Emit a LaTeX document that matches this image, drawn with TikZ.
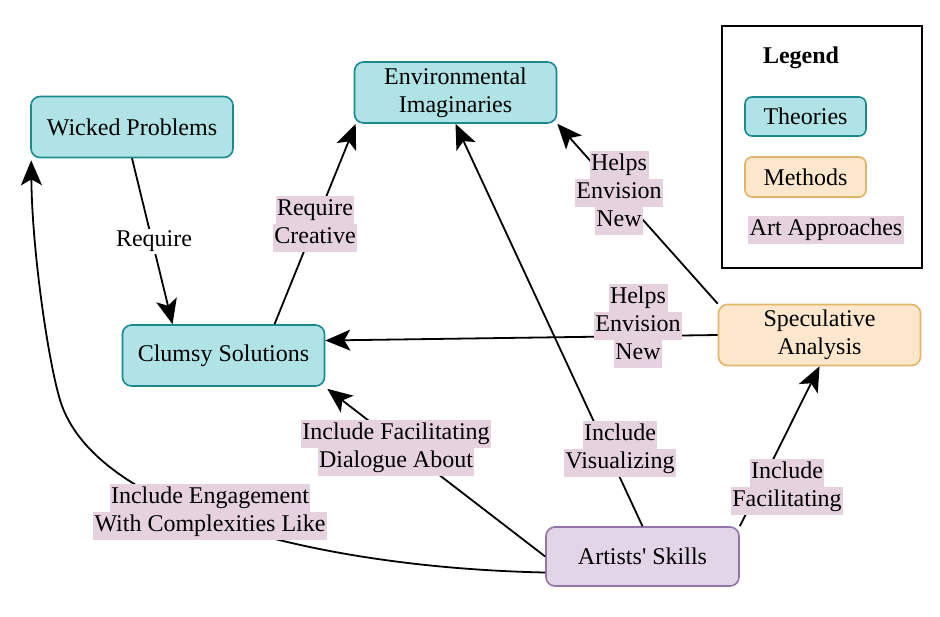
\documentclass[tikz,border=0pt]{standalone}
\usepackage{fontspec}
\setmainfont{Liberation Serif}
\usetikzlibrary{arrows.meta}
\definecolor{thfill}{HTML}{B0E3E6}
\definecolor{thdraw}{HTML}{1A8A8F}
\definecolor{mefill}{HTML}{FCE7CC}
\definecolor{medraw}{HTML}{E2B467}
\definecolor{arfill}{HTML}{E1D5E7}
\definecolor{ardraw}{HTML}{9673A6}
\definecolor{lblpink}{HTML}{E6D2DF}
\newcommand\hlb[1]{{\setlength{\fboxsep}{0pt}\colorbox{lblpink}{\kern1.5pt\strut #1\kern1.5pt}}}
\begin{document}
\begin{tikzpicture}[x=1pt,y=-1pt,
  every node/.style={font=\fontsize{24}{28}\selectfont},
  box/.style={rounded corners=9pt, line width=1.6pt, minimum width=202pt, minimum height=61pt, align=center, inner sep=2pt},
  theory/.style={box, fill=thfill, draw=thdraw},
  method/.style={box, fill=mefill, draw=medraw},
  artbox/.style={box, fill=arfill, draw=ardraw},
  lbl/.style={align=center, inner sep=0pt},
  conn/.style={line width=1.8pt, -{Stealth[length=25pt,width=21pt,inset=6pt]}}]
\useasboundingbox (0,0) rectangle (940,616);
\fill[white] (0,0) rectangle (940,616);

% nodes
\node[theory] (wp) at (132,127) {Wicked Problems};
\node[theory] (ei) at (455.5,92.5) {Environmental\\Imaginaries};
\node[theory] (cs) at (223.5,355.5) {Clumsy Solutions};
\node[method] (sa) at (819.5,335) {Speculative\\Analysis};
\node[artbox, minimum width=193pt, minimum height=59pt] (as) at (642.5,556.5) {Artists\textquotesingle{} Skills};

% legend
\node[draw, line width=1.6pt, minimum width=200pt, minimum height=242pt, inner sep=0pt] (legend) at (822,147) {};
\node[font=\fontsize{24}{28}\selectfont\bfseries] (legtitle) at (801,58) {Legend};
\node[theory, minimum width=121pt, minimum height=39pt, rounded corners=7pt] (legth) at (805.5,116.5) {Theories};
\node[method, minimum width=121pt, minimum height=40pt, rounded corners=7pt] (legme) at (805.5,177) {Methods};
\node[lbl] (legart) at (826,230) {\hlb{Art Approaches}};

% connectors
\coordinate (bend) at (60,400);
\draw[conn] (wp.south) -- ([xshift=-51pt]cs.north);
\draw[conn] ([xshift=51pt]cs.north) -- ([xshift=2pt]ei.south west);
\draw[conn] (sa.north west) -- (ei.south east);
\draw[conn] (sa.west) -- ([yshift=15pt]cs.east);
\draw[conn] (as.west) -- ([xshift=2pt,yshift=-2pt]cs.south east);
\draw[conn] (as.north) -- (ei.south);
\draw[conn] (as.north east) -- (sa.south);
\draw[conn] ([yshift=-16pt]as.west) .. controls (330,568) and (95,515) .. (bend)
  .. controls (48,360) and (32,250) .. ([xshift=1pt,yshift=-2pt]wp.south west);

% connector labels
\node[fill=white, inner sep=2pt] (l1) at (154,241) {Require};
\node[lbl] (l2) at (315,224) {\hlb{Require}\\\hlb{Creative}};
\node[lbl] (l3) at (619,193) {\hlb{Helps}\\\hlb{Envision}\\\hlb{New}};
\node[lbl] (l4) at (638,326) {\hlb{Helps}\\\hlb{Envision}\\\hlb{New}};
\node[lbl] (l5) at (396,448) {\hlb{Include Facilitating}\\\hlb{Dialogue About}};
\node[lbl] (l6) at (620,449) {\hlb{Include}\\\hlb{Visualizing}};
\node[lbl] (l7) at (787,487) {\hlb{Include}\\\hlb{Facilitating}};
\node[lbl] (l8) at (210,512) {\hlb{Include Engagement}\\\hlb{With Complexities Like}};
\end{tikzpicture}
\end{document}
